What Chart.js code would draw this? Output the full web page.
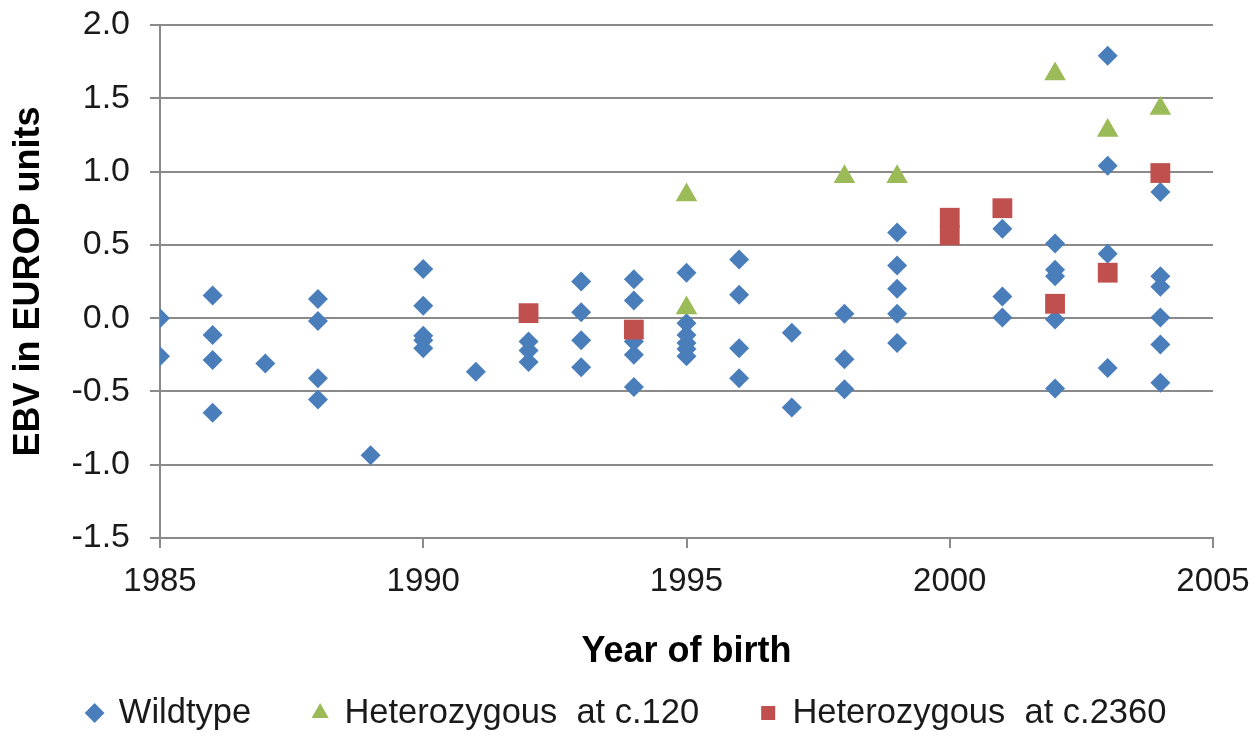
<!DOCTYPE html>
<html>
<head>
<meta charset="utf-8">
<script src="https://cdn.jsdelivr.net/npm/chart.js@4/dist/chart.umd.min.js"></script>
<style>
  html, body { margin: 0; padding: 0; background: #ffffff; }
  #wrap { width: 1254px; height: 751px; }
</style>
</head>
<body>
<div id="wrap"><canvas id="ebvChart" width="1254" height="751"></canvas></div>
<script>
// ---- data ----
var wildtypeYears = [1985, 1985,
    1986, 1986, 1986, 1986,
    1987,
    1988, 1988, 1988, 1988,
    1989,
    1990, 1990, 1990, 1990, 1990,
    1991,
    1992, 1992, 1992,
    1993, 1993, 1993, 1993,
    1994, 1994, 1994, 1994, 1994,
    1995, 1995, 1995, 1995, 1995, 1995,
    1996, 1996, 1996, 1996,
    1997, 1997,
    1998, 1998, 1998,
    1999, 1999, 1999, 1999, 1999,
    2001, 2001, 2001,
    2002, 2002, 2002, 2002, 2002,
    2003, 2003, 2003, 2003,
    2004, 2004, 2004, 2004, 2004, 2004];
var wildtypeEBV = [0.00, -0.26,
    0.155, -0.115, -0.285, -0.645,
    -0.31,
    0.13, -0.02, -0.41, -0.555,
    -0.935,
    0.335, 0.085, -0.12, -0.15, -0.205,
    -0.365,
    -0.16, -0.22, -0.30,
    0.25, 0.04, -0.15, -0.335,
    0.265, 0.12, -0.16, -0.25, -0.47,
    0.31, -0.035, -0.115, -0.17, -0.21, -0.26,
    0.40, 0.16, -0.205, -0.41,
    -0.10, -0.61,
    0.03, -0.28, -0.485,
    0.585, 0.36, 0.20, 0.03, -0.17,
    0.61, 0.148, 0.005,
    0.51, 0.33, 0.285, -0.01, -0.48,
    1.79, 1.04, 0.44, -0.34,
    0.86, 0.285, 0.215, 0.005, -0.18, -0.44];

var het120Years = [1995, 1995, 1998, 1999, 2002, 2003, 2004];
var het120EBV   = [0.84, 0.07, 0.965, 0.965, 1.665, 1.28, 1.43];

var het2360Years = [1992, 1994, 2000, 2000, 2001, 2002, 2003, 2004];
var het2360EBV   = [0.034, -0.078, 0.685, 0.565, 0.75, 0.098, 0.31, 0.99];

var seriesNames = ["Wildtype", "Heterozygous  at c.120", "Heterozygous  at c.2360"];
var yearTicks = [1985, 1990, 1995, 2000, 2005];

function toPoints(xs, ys) {
    var out = [];
    for (var i = 0; i < xs.length; i++) out.push({ x: xs[i], y: ys[i] });
    return out;
}

var gridGray = "#8a8a8a";
var font = "'Liberation Sans', Arial, sans-serif";

var ctx = document.getElementById("ebvChart").getContext("2d");

new Chart(ctx, {
    type: 'scatter',
    data: {
        datasets: [{
            label: seriesNames[0],
            data: toPoints(wildtypeYears, wildtypeEBV),
            pointStyle: 'rectRot',
            pointRadius: 10,
            pointHoverRadius: 10,
            backgroundColor: "#4a7ebb",
            borderColor: "#4a7ebb",
            borderWidth: 0,
            order: 3
        }, {
            label: seriesNames[1],
            data: toPoints(het120Years, het120EBV),
            pointStyle: 'triangle',
            pointRadius: 12.5,
            pointHoverRadius: 12.5,
            backgroundColor: "#9bbb59",
            borderColor: "#9bbb59",
            borderWidth: 0,
            order: 2
        }, {
            label: seriesNames[2],
            data: toPoints(het2360Years, het2360EBV),
            pointStyle: 'rect',
            pointRadius: 14,
            pointHoverRadius: 14,
            backgroundColor: "#c0504d",
            borderColor: "#c0504d",
            borderWidth: 0,
            order: 1
        }]
    },
    options: {
        responsive: false,
        animation: false,
        events: [],
        layout: { padding: { top: 25, right: 0, left: 0, bottom: 10.75 } },
        scales: {
            x: {
                type: 'linear',
                min: 1985,
                max: 2005,
                afterBuildTicks: function (scale) {
                    scale.ticks = yearTicks.map(function (v) { return { value: v }; });
                },
                afterFit: function (scale) {
                    // keep the plot edges where the figure has them
                    scale.height = 95.75;
                    scale.paddingLeft = 0;
                    scale.paddingRight = 41;
                },
                grid: { drawOnChartArea: false, drawTicks: true, tickLength: 10, color: gridGray, lineWidth: 2 },
                border: { display: true, color: gridGray, width: 2 },
                ticks: {
                    color: "#1a1a1a",
                    padding: 14,
                    font: { family: font, size: 33 },
                    callback: function (v) { return String(v); }
                },
                title: {
                    display: true,
                    text: "Year of birth",
                    color: "#000000",
                    font: { family: font, size: 36, weight: 'bold' },
                    padding: { top: 0, bottom: -39.85 }
                }
            },
            y: {
                min: -1.5,
                max: 2.0,
                afterFit: function (scale) {
                    scale.width = 160;
                    scale.paddingTop = 0;
                    scale.paddingBottom = 0;
                },
                grid: { drawTicks: true, tickLength: 10, color: gridGray, lineWidth: 2 },
                border: { display: true, color: gridGray, width: 2 },
                ticks: {
                    stepSize: 0.5,
                    color: "#1a1a1a",
                    padding: 20,
                    font: { family: font, size: 34 },
                    callback: function (v) { return Number(v).toFixed(1); }
                },
                title: {
                    display: true,
                    text: "EBV in EUROP units",
                    color: "#000000",
                    font: { family: font, size: 36, weight: 'bold' },
                    padding: { top: 7, bottom: 0 }
                }
            }
        },
        plugins: {
            tooltip: { enabled: false },
            legend: {
                display: true,
                position: 'bottom',
                labels: {
                    usePointStyle: true,
                    boxWidth: 14,
                    boxHeight: 14,
                    padding: 62,
                    color: "#1a1a1a",
                    font: { family: font, size: 34.5 },
                    sort: function (a, b) { return a.datasetIndex - b.datasetIndex; }
                }
            }
        }
    }
});
</script>
</body>
</html>
